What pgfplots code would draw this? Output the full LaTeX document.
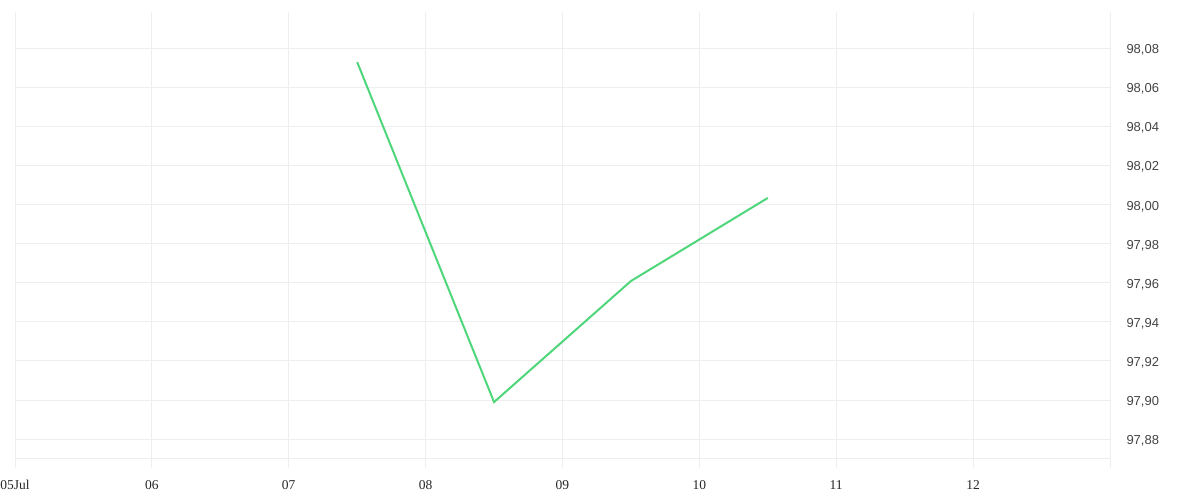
\documentclass[border=0pt]{standalone}
\usepackage{pgfplots}
\pgfplotsset{compat=1.18}
\usepackage{fontspec}
\setmainfont{Liberation Serif}
\newfontfamily\ysans{Liberation Sans}
\definecolor{gridc}{HTML}{EEEEEE}
\definecolor{linec}{HTML}{4FD67A}
\definecolor{labc}{HTML}{444444}
\begin{document}
\begin{tikzpicture}[x=1pt,y=1pt]
\begin{axis}[
  scale only axis,
  width=1095pt, height=446pt,
  xmin=5, xmax=13,
  ymin=97.8703, ymax=98.0984,
  axis line style={draw=none},
  xtick={5,6,7,8,9,10,11,12,13},
  xticklabels={05Jul,06,07,08,09,10,11,12,{}},
  ytick={97.88,97.90,97.92,97.94,97.96,97.98,98.00,98.02,98.04,98.06,98.08},
  xtick pos=bottom,
  yticklabel pos=right,
  yticklabel style={font=\ysans\fontsize{13}{15}\selectfont, color=labc, anchor=west, xshift=13pt, yshift=-2pt},
  xticklabel style={font=\fontsize{13.5}{15}\selectfont, color=black!85, yshift=-9pt},
  /pgf/number format/.cd, use comma, fixed, fixed zerofill, precision=2, assume math mode=true,
  /pgfplots/.cd,
  grid=major,
  major grid style={gridc, line width=0.8pt},
  xtick style={draw=gridc, line width=0.8pt},
  ytick style={draw=none},
  xtick align=outside,
  major tick length=10pt,
  clip=false,
]
\addplot[linec, line width=2pt, line join=miter] coordinates {
  (7.5,98.0728) (8.5,97.8989) (9.5,97.9608) (10.5,98.0033)
};
\draw[gridc, line width=0.8pt] (axis description cs:0,0) -- (axis description cs:1,0);
\end{axis}
\pgfresetboundingbox
\useasboundingbox (-15pt,-42pt) rectangle (1185pt,458pt);
\end{tikzpicture}
\end{document}
